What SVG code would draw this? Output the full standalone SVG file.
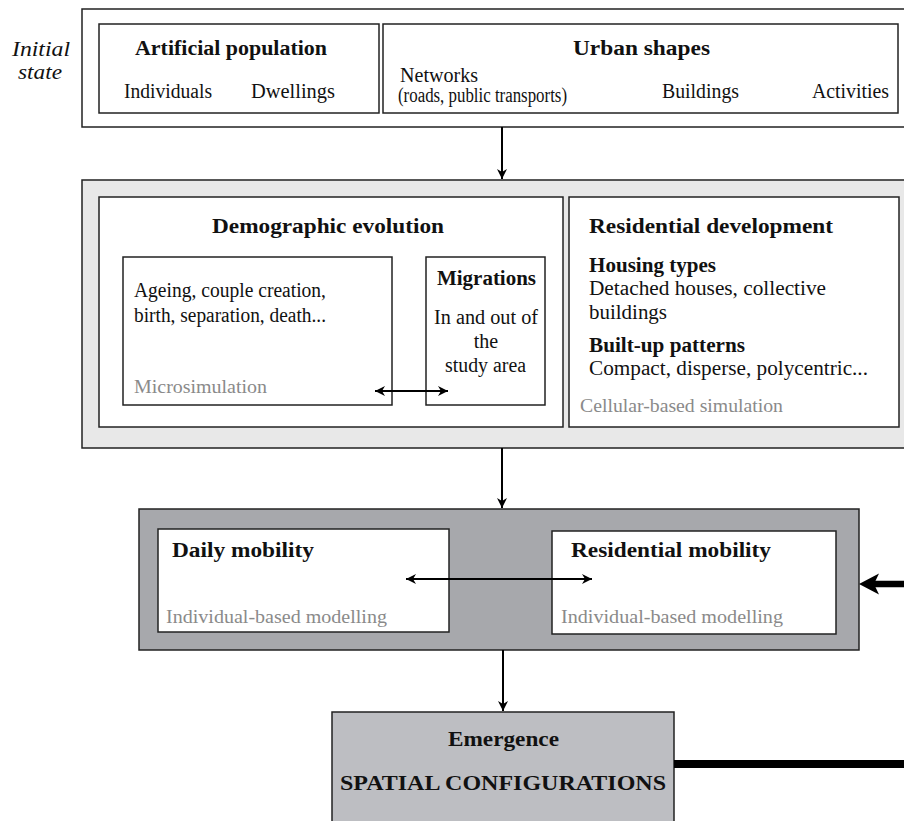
<svg xmlns="http://www.w3.org/2000/svg" width="904" height="821" viewBox="0 0 904 821" font-family="'Liberation Serif', 'Times New Roman', Times, serif">
<style>
.box{fill:#fff;stroke:#222;stroke-width:1.5}
.t{font-family:'Liberation Serif','Times New Roman',Times,serif;fill:#111;font-size:20px}
.b{font-weight:bold}
.g{fill:#8a8a8a;font-size:18px}
.ln{stroke:#000;stroke-width:2;fill:none}
</style>
<defs>
<marker id="ah" viewBox="0 0 10 10" refX="10" refY="5" markerWidth="11" markerHeight="10" markerUnits="userSpaceOnUse" orient="auto-start-reverse">
<path d="M0,0 L10,5 L0,10 L3,5 z" fill="#000"/>
</marker>
</defs>
<rect width="904" height="821" fill="#fff"/>

<g id="initial-label">
<text class="t" x="12" y="56" font-style="italic" font-size="22" textLength="58" lengthAdjust="spacingAndGlyphs">Initial</text>
<text class="t" x="18" y="79" font-style="italic" font-size="22" textLength="44" lengthAdjust="spacingAndGlyphs">state</text>
</g>

<g id="initial-state">
<rect class="box" x="82" y="9" width="840" height="118"/>
</g>
<g id="artificial-population">
<rect class="box" x="99" y="24" width="280" height="89"/>
<text class="t b" x="135" y="55" textLength="192" lengthAdjust="spacingAndGlyphs">Artificial population</text>
<text class="t" x="124" y="98" textLength="88" lengthAdjust="spacingAndGlyphs">Individuals</text>
<text class="t" x="251" y="98" textLength="84" lengthAdjust="spacingAndGlyphs">Dwellings</text>
</g>
<g id="urban-shapes">
<rect class="box" x="383" y="24" width="515" height="89"/>
<text class="t b" x="573" y="55" textLength="137" lengthAdjust="spacingAndGlyphs">Urban shapes</text>
<text class="t" x="400" y="82" textLength="78" lengthAdjust="spacingAndGlyphs">Networks</text>
<text class="t" x="398" y="102" font-size="15" textLength="169" lengthAdjust="spacingAndGlyphs">(roads, public transports)</text>
<text class="t" x="662" y="98" textLength="77" lengthAdjust="spacingAndGlyphs">Buildings</text>
<text class="t" x="812" y="98" textLength="77" lengthAdjust="spacingAndGlyphs">Activities</text>
</g>

<g id="dynamics">
<rect x="82" y="180" width="840" height="268" fill="#e8e8e8" stroke="#222" stroke-width="1.5"/>
</g>
<g id="demographic-evolution">
<rect class="box" x="99" y="197" width="464" height="230"/>
<text class="t b" x="212" y="233" font-size="22" textLength="232" lengthAdjust="spacingAndGlyphs">Demographic evolution</text>
</g>
<g id="microsimulation">
<rect class="box" x="123" y="257" width="269" height="148"/>
<text class="t" x="134" y="297" textLength="192" lengthAdjust="spacingAndGlyphs">Ageing, couple creation,</text>
<text class="t" x="134" y="322" textLength="192" lengthAdjust="spacingAndGlyphs">birth, separation, death...</text>
<text class="t g" x="134" y="393" textLength="133" lengthAdjust="spacingAndGlyphs">Microsimulation</text>
</g>
<g id="migrations">
<rect class="box" x="426" y="257" width="119" height="148"/>
<text class="t b" x="437" y="285" textLength="99" lengthAdjust="spacingAndGlyphs">Migrations</text>
<text class="t" x="434" y="324" textLength="104" lengthAdjust="spacingAndGlyphs">In and out of</text>
<text class="t" x="486" y="348" text-anchor="middle">the</text>
<text class="t" x="445" y="372" textLength="81" lengthAdjust="spacingAndGlyphs">study area</text>
</g>
<g id="residential-development">
<rect class="box" x="569" y="197" width="330" height="230"/>
<text class="t b" x="589" y="233" font-size="22" textLength="244" lengthAdjust="spacingAndGlyphs">Residential development</text>
<text class="t b" x="589" y="272" textLength="127" lengthAdjust="spacingAndGlyphs">Housing types</text>
<text class="t" x="589" y="295" textLength="237" lengthAdjust="spacingAndGlyphs">Detached houses, collective</text>
<text class="t" x="589" y="319" textLength="78" lengthAdjust="spacingAndGlyphs">buildings</text>
<text class="t b" x="589" y="352" textLength="156" lengthAdjust="spacingAndGlyphs">Built-up patterns</text>
<text class="t" x="589" y="375" textLength="279" lengthAdjust="spacingAndGlyphs">Compact, disperse, polycentric...</text>
<text class="t g" x="580" y="412" textLength="203" lengthAdjust="spacingAndGlyphs">Cellular-based simulation</text>
</g>

<g id="mobility">
<rect x="139" y="509" width="720" height="141" fill="#a7a8ac" stroke="#222" stroke-width="1.5"/>
</g>
<g id="daily-mobility">
<rect class="box" x="158" y="529" width="291" height="103"/>
<text class="t b" x="172" y="557" font-size="22" textLength="142" lengthAdjust="spacingAndGlyphs">Daily mobility</text>
<text class="t g" x="166" y="623" textLength="221" lengthAdjust="spacingAndGlyphs">Individual-based modelling</text>
</g>
<g id="residential-mobility">
<rect class="box" x="552" y="531" width="284" height="103"/>
<text class="t b" x="571" y="557" font-size="22" textLength="200" lengthAdjust="spacingAndGlyphs">Residential mobility</text>
<text class="t g" x="561" y="623" textLength="222" lengthAdjust="spacingAndGlyphs">Individual-based modelling</text>
</g>

<g id="emergence">
<rect x="332" y="712" width="342" height="130" fill="#bdbec2" stroke="#222" stroke-width="1.5"/>
<text class="t b" x="448" y="746" font-size="22" textLength="111" lengthAdjust="spacingAndGlyphs">Emergence</text>
<text class="t b" x="340" y="790" font-size="22" textLength="326" lengthAdjust="spacingAndGlyphs">SPATIAL CONFIGURATIONS</text>
</g>

<g id="connectors">
<line class="ln" x1="502" y1="127" x2="502" y2="179" marker-end="url(#ah)"/>
<line class="ln" x1="375" y1="391" x2="448" y2="391" marker-start="url(#ah)" marker-end="url(#ah)"/>
<line class="ln" x1="502" y1="448" x2="502" y2="508" marker-end="url(#ah)"/>
<line class="ln" x1="406" y1="579" x2="592" y2="579" marker-start="url(#ah)" marker-end="url(#ah)"/>
<line class="ln" x1="503" y1="650" x2="503" y2="711" marker-end="url(#ah)"/>
<line x1="674" y1="764" x2="910" y2="764" stroke="#000" stroke-width="8"/>
<line x1="874" y1="584" x2="910" y2="584" stroke="#000" stroke-width="6.5"/>
<polygon points="859,584 879,573.5 874,584 879,594.5" fill="#000"/>
</g>
</svg>
